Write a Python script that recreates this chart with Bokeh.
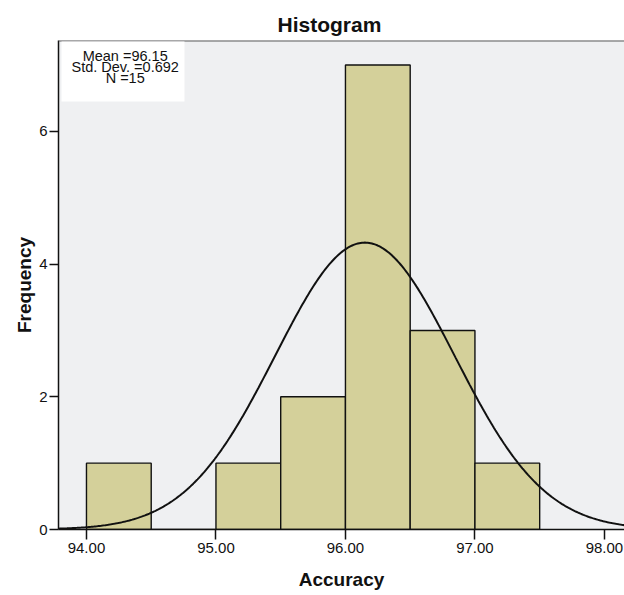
import numpy as np
from bokeh.plotting import figure
from bokeh.models import FixedTicker, NumeralTickFormatter, Range1d, BoxAnnotation, Label, Span
from bokeh.embed import file_html
from bokeh.resources import INLINE

# ---- data ----
bin_left = [94.0, 94.5, 95.0, 95.5, 96.0, 96.5, 97.0]
bin_right = [94.5, 95.0, 95.5, 96.0, 96.5, 97.0, 97.5]
counts = [1, 0, 1, 2, 7, 3, 1]
mean_val = 96.15
std_val = 0.692
n_val = 15
x_ticks = [94, 95, 96, 97, 98]
y_ticks = [0, 2, 4, 6]
stat_lines = ["Mean =96.15", "Std. Dev. =0.692", "N =15"]

FONT = "Liberation Sans"
X0, X1 = 93.784, 98.155
Y0, Y1 = 0, 7.37

p = figure(width=624, height=595, output_backend="svg", toolbar_location=None,
           x_range=Range1d(X0, X1), y_range=Range1d(Y0, Y1),
           min_border_left=58, min_border_right=0, min_border_top=40, min_border_bottom=66)
p.background_fill_color = "#EFF0F2"
p.border_fill_color = "white"
p.outline_line_color = None
p.xgrid.visible = False
p.ygrid.visible = False

p.title.text = "Histogram"
p.title.text_font = FONT
p.title.text_font_size = "21px"
p.title.text_font_style = "bold"
p.title.align = "left"
p.title.offset = 219
p.title.standoff = 9
p.title.text_color = "#111111"

# bars
p.quad(left=bin_left, right=bin_right, bottom=0, top=counts,
       fill_color="#D4D09A", line_color="#111111", line_width=1.4)

# normal curve fitted from stated mean / sd / N
bw = bin_right[0] - bin_left[0]
xs = np.linspace(X0, X1, 400)
ys = n_val * bw * np.exp(-0.5 * ((xs - mean_val) / std_val) ** 2) / (std_val * np.sqrt(2 * np.pi))
p.line(xs, ys, line_color="#111111", line_width=2)

# top frame line
p.add_layout(Span(location=Y1, dimension="width", line_color="#5a5a5a", line_width=2))

# stats box
p.add_layout(BoxAnnotation(left=93.807, right=94.757, top=7.355, bottom=6.45,
                           fill_color="white", fill_alpha=1.0, line_color=None, level="overlay"))
for txt, yy in zip(stat_lines, [7.14, 6.97, 6.80]):
    p.add_layout(Label(x=94.299, y=yy, text=txt, text_align="center", text_baseline="alphabetic",
                       text_font=FONT, text_font_size="14.5px", text_color="#111111", level="overlay"))

# axes
for ax in (p.xaxis[0], p.yaxis[0]):
    ax.axis_line_color = "#111111"
    ax.axis_line_width = 1.5
    ax.major_tick_line_color = "#111111"
    ax.major_tick_line_width = 1.5
    ax.major_tick_in = 0
    ax.minor_tick_line_color = None
    ax.major_label_text_font = FONT
    ax.major_label_text_font_size = "15px"
    ax.major_label_text_color = "#111111"
    ax.axis_label_text_font = FONT
    ax.axis_label_text_font_size = "19px"
    ax.axis_label_text_font_style = "bold"
    ax.axis_label_text_color = "#111111"

p.xaxis.ticker = FixedTicker(ticks=x_ticks)
p.xaxis.formatter = NumeralTickFormatter(format="0.00")
p.xaxis.major_tick_out = 10
p.xaxis.major_label_standoff = 3
p.xaxis.axis_label = "Accuracy"
p.xaxis.axis_label_standoff = 13

p.yaxis.ticker = FixedTicker(ticks=y_ticks)
p.yaxis.major_tick_out = 9
p.yaxis.major_label_standoff = 2
p.yaxis.axis_label = "Frequency"
p.yaxis.axis_label_standoff = 1

open("out.html", "w").write(file_html(p, INLINE))
